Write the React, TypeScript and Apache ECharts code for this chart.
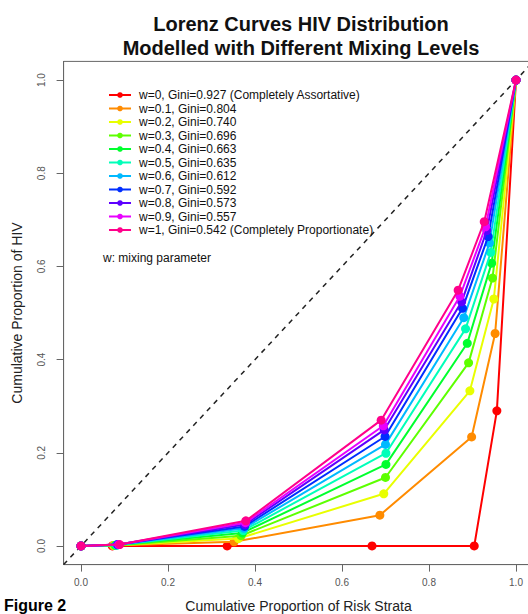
import React, { useEffect, useRef } from "react";
import * as echarts from "echarts";

const seriesNames = [
  "w=0, Gini=0.927 (Completely Assortative)",
  "w=0.1, Gini=0.804",
  "w=0.2, Gini=0.740",
  "w=0.3, Gini=0.696",
  "w=0.4, Gini=0.663",
  "w=0.5, Gini=0.635",
  "w=0.6, Gini=0.612",
  "w=0.7, Gini=0.592",
  "w=0.8, Gini=0.573",
  "w=0.9, Gini=0.557",
  "w=1, Gini=0.542 (Completely Proportionate)",
];

const seriesColors = [
  "#FF0000", "#FF8B00", "#E8FF00", "#5DFF00", "#00FF2E", "#00FFB9",
  "#00B9FF", "#002EFF", "#5D00FF", "#E800FF", "#FF008B",
];

// cumulative proportion of risk strata (x) for each mixing level
const strataX: number[][] = [
  [0, 0.072, 0.336, 0.669, 0.904, 0.956, 1],
  [0, 0.074, 0.352, 0.687, 0.898, 0.952, 1],
  [0, 0.076, 0.362, 0.696, 0.894, 0.949, 1],
  [0, 0.078, 0.368, 0.7, 0.891, 0.946, 1],
  [0, 0.08, 0.371, 0.701, 0.888, 0.944, 1],
  [0, 0.082, 0.373, 0.701, 0.884, 0.942, 1],
  [0, 0.083, 0.375, 0.7, 0.88, 0.939, 1],
  [0, 0.084, 0.376, 0.699, 0.877, 0.936, 1],
  [0, 0.085, 0.377, 0.697, 0.875, 0.933, 1],
  [0, 0.087, 0.378, 0.695, 0.871, 0.93, 1],
  [0, 0.089, 0.379, 0.69, 0.867, 0.927, 1],
];

// cumulative proportion of HIV (y) for each mixing level
const hivY: number[][] = [
  [0, 0, 0, 0, 0, 0.29, 1],
  [0, 0.001, 0.009, 0.066, 0.234, 0.456, 1],
  [0, 0.001, 0.016, 0.112, 0.333, 0.53, 1],
  [0, 0.001, 0.022, 0.147, 0.393, 0.575, 1],
  [0, 0.002, 0.028, 0.175, 0.435, 0.607, 1],
  [0, 0.002, 0.033, 0.199, 0.466, 0.63, 1],
  [0, 0.002, 0.038, 0.218, 0.49, 0.65, 1],
  [0, 0.003, 0.042, 0.235, 0.51, 0.664, 1],
  [0, 0.003, 0.046, 0.249, 0.524, 0.677, 1],
  [0, 0.003, 0.05, 0.258, 0.536, 0.685, 1],
  [0, 0.003, 0.054, 0.27, 0.549, 0.696, 1],
];

const tickValues = [0, 0.2, 0.4, 0.6, 0.8, 1.0];
const equalityLine = [[-0.04, -0.04], [1.04, 1.04]];

const FONT = "Liberation Sans, Arial, sans-serif";

export default function App() {
  const ref = useRef<HTMLDivElement>(null);
  useEffect(() => {
    document.body.style.margin = "0";
    if (!ref.current) return;
    const chart = echarts.init(ref.current, null, { renderer: "svg" });

    const curveSeries = seriesNames.map((name, i) => ({
      name,
      type: "line",
      data: strataX[i].map((x, j) => [x, hivY[i][j]]),
      color: seriesColors[i],
      lineStyle: { width: 2, color: seriesColors[i] },
      itemStyle: { color: seriesColors[i] },
      symbol: "circle",
      symbolSize: 9,
      showSymbol: true,
      z: 3 + i,
    }));

    const axisCommon = {
      type: "value",
      min: -0.04,
      max: 1.04,
      splitLine: { show: false },
      axisLine: { show: true, onZero: false, lineStyle: { color: "#666", width: 1 } },
      axisTick: {
        show: true,
        inside: false,
        length: 7,
        customValues: tickValues,
        lineStyle: { color: "#666", width: 1 },
      },
      nameLocation: "middle",
      nameTextStyle: { fontSize: 14, color: "#222", fontFamily: FONT },
    };

    chart.setOption({
      animation: false,
      backgroundColor: "#fff",
      title: {
        text: "Lorenz Curves HIV Distribution\nModelled with Different Mixing Levels",
        left: 296,
        textAlign: "center",
        top: 7,
        textStyle: {
          fontSize: 20,
          fontWeight: "bold",
          color: "#111",
          fontFamily: FONT,
          lineHeight: 24,
        },
      },
      grid: {
        show: true,
        left: 63.6,
        top: 61.4,
        width: 469.8,
        height: 503.2,
        borderColor: "#666",
        borderWidth: 1,
        backgroundColor: "transparent",
        containLabel: false,
        outerBoundsMode: "none",
      },
      legend: {
        data: seriesNames,
        orient: "vertical",
        left: 103,
        top: 84,
        itemWidth: 22,
        itemHeight: 7,
        itemGap: 1.5,
        textStyle: {
          fontSize: 12,
          lineHeight: 12,
          color: "#111",
          fontFamily: FONT,
          padding: [0, 0, 0, 3],
        },
        selectedMode: false,
      },
      graphic: [
        {
          type: "text",
          left: 103,
          top: 252,
          style: {
            text: "w: mixing parameter",
            fontSize: 12,
            fill: "#111",
            fontFamily: FONT,
          },
        },
        {
          type: "text",
          left: 4,
          top: 597,
          style: {
            text: "Figure 2",
            fontSize: 16,
            fontWeight: "bold",
            fill: "#000",
            fontFamily: FONT,
          },
        },
      ],
      xAxis: {
        ...axisCommon,
        name: "Cumulative Proportion of Risk Strata",
        nameGap: 34,
        axisLabel: {
          customValues: tickValues,
          formatter: (v: number) => v.toFixed(1),
          fontSize: 10,
          color: "#555",
          margin: 13,
          fontFamily: FONT,
        },
      },
      yAxis: {
        ...axisCommon,
        name: "Cumulative Proportion of HIV",
        nameGap: 40,
        axisLabel: {
          customValues: tickValues,
          formatter: (v: number) => v.toFixed(1),
          fontSize: 10,
          color: "#555",
          margin: 17,
          rotate: 90,
          fontFamily: FONT,
        },
      },
      series: [
        {
          name: "equality",
          type: "line",
          data: equalityLine,
          symbol: "none",
          lineStyle: { color: "#222", width: 1.5, type: [5, 5] },
          z: 2,
          silent: true,
        },
        ...curveSeries,
      ],
    });
    return () => chart.dispose();
  }, []);
  return <div ref={ref} style={{ width: 528, height: 614 }} />;
}
